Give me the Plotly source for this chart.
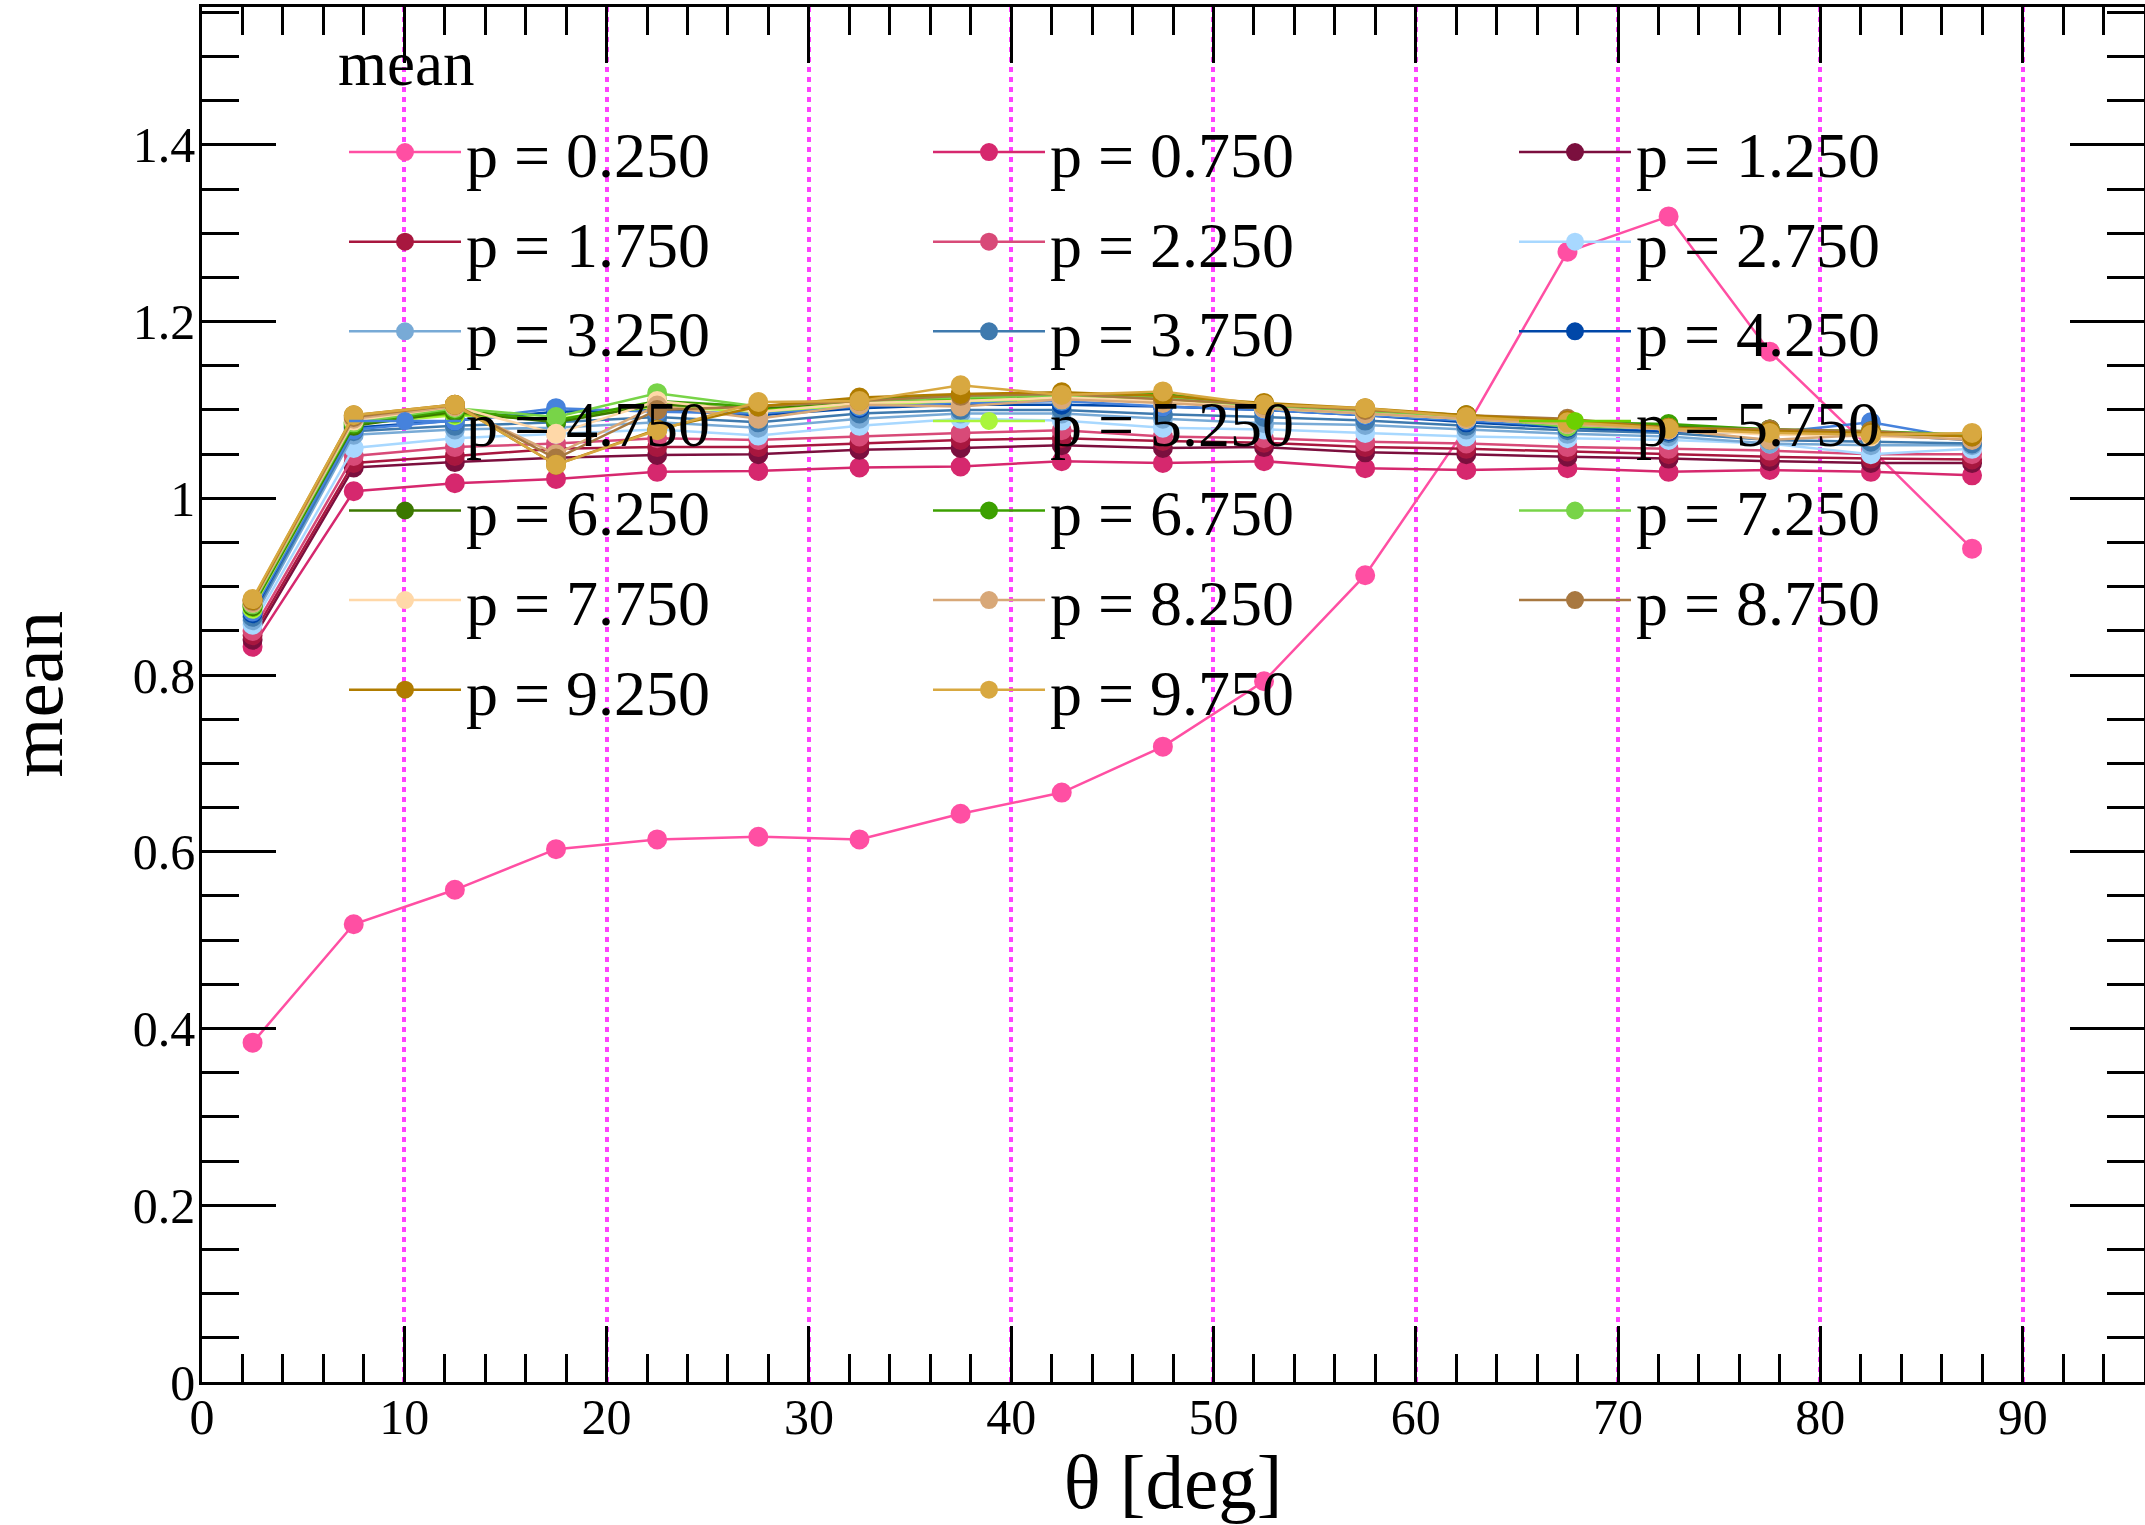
import plotly.graph_objects as go

theta = [2.5, 7.5, 12.5, 17.5, 22.5, 27.5, 32.5, 37.5, 42.5, 47.5,
         52.5, 57.5, 62.5, 67.5, 72.5, 77.5, 82.5, 87.5]

p_labels = ["p = 0.250", "p = 0.750", "p = 1.250", "p = 1.750", "p = 2.250",
            "p = 2.750", "p = 3.250", "p = 3.750", "p = 4.250", "p = 4.750",
            "p = 5.250", "p = 5.750", "p = 6.250", "p = 6.750", "p = 7.250",
            "p = 7.750", "p = 8.250", "p = 8.750", "p = 9.250", "p = 9.750"]

colors = ["#ff4fa3", "#d6286e", "#7b0f3e", "#a8173f", "#d84a78",
          "#a8d8ff", "#78aad6", "#3f7aae", "#0047a8", "#4682dc",
          "#aaf53c", "#6cd000", "#3c7800", "#3ca000", "#78d448",
          "#ffd8a8", "#d8a878", "#a87840", "#b07c00", "#d8a840"]

mean_p0250 = [0.384, 0.518, 0.557, 0.603, 0.614, 0.617, 0.614, 0.643, 0.667, 0.719,
              0.793, 0.913, 1.080, 1.279, 1.319, 1.166, 1.056, 0.943]
mean_p0750 = [0.832, 1.008, 1.017, 1.022, 1.030, 1.031, 1.035, 1.036, 1.042, 1.040,
              1.042, 1.034, 1.032, 1.034, 1.030, 1.032, 1.030, 1.026]
mean_p1250 = [0.840, 1.035, 1.041, 1.046, 1.049, 1.050, 1.055, 1.057, 1.060, 1.057,
              1.058, 1.052, 1.050, 1.047, 1.045, 1.042, 1.040, 1.040]
mean_p1750 = [0.845, 1.040, 1.048, 1.056, 1.058, 1.058, 1.062, 1.066, 1.068, 1.065,
              1.063, 1.058, 1.056, 1.053, 1.050, 1.047, 1.045, 1.044]
mean_p2250 = [0.850, 1.048, 1.058, 1.062, 1.068, 1.066, 1.070, 1.074, 1.077, 1.070,
              1.068, 1.064, 1.062, 1.058, 1.056, 1.054, 1.050, 1.050]
mean_p2750 = [0.857, 1.057, 1.068, 1.073, 1.078, 1.071, 1.082, 1.090, 1.088, 1.080,
              1.078, 1.074, 1.070, 1.068, 1.066, 1.062, 1.050, 1.056]
mean_p3250 = [0.862, 1.072, 1.078, 1.080, 1.086, 1.080, 1.090, 1.096, 1.096, 1.090,
              1.085, 1.083, 1.078, 1.073, 1.070, 1.062, 1.060, 1.060]
mean_p3750 = [0.866, 1.076, 1.082, 1.086, 1.092, 1.086, 1.096, 1.100, 1.100, 1.095,
              1.092, 1.088, 1.082, 1.077, 1.074, 1.066, 1.064, 1.062]
mean_p4250 = [0.870, 1.080, 1.088, 1.098, 1.100, 1.094, 1.102, 1.106, 1.106, 1.104,
              1.100, 1.094, 1.086, 1.080, 1.076, 1.074, 1.072, 1.066]
mean_p4750 = [0.872, 1.078, 1.088, 1.102, 1.098, 1.096, 1.104, 1.108, 1.110, 1.104,
              1.100, 1.094, 1.088, 1.082, 1.078, 1.074, 1.086, 1.066]
mean_p5250 = [0.875, 1.084, 1.094, 1.090, 1.104, 1.098, 1.106, 1.110, 1.112, 1.110,
              1.102, 1.096, 1.090, 1.084, 1.080, 1.076, 1.072, 1.068]
mean_p5750 = [0.877, 1.086, 1.096, 1.088, 1.108, 1.100, 1.108, 1.112, 1.114, 1.112,
              1.104, 1.098, 1.092, 1.082, 1.080, 1.076, 1.074, 1.070]
mean_p6250 = [0.878, 1.082, 1.098, 1.086, 1.106, 1.102, 1.110, 1.114, 1.116, 1.116,
              1.104, 1.098, 1.092, 1.086, 1.082, 1.078, 1.074, 1.070]
mean_p6750 = [0.880, 1.084, 1.100, 1.088, 1.110, 1.104, 1.112, 1.116, 1.116, 1.118,
              1.106, 1.100, 1.094, 1.086, 1.084, 1.078, 1.076, 1.072]
mean_p7250 = [0.880, 1.086, 1.102, 1.092, 1.119, 1.104, 1.110, 1.114, 1.116, 1.114,
              1.104, 1.098, 1.092, 1.081, 1.080, 1.076, 1.074, 1.072]
mean_p7750 = [0.882, 1.088, 1.104, 1.073, 1.110, 1.098, 1.108, 1.110, 1.114, 1.110,
              1.102, 1.096, 1.090, 1.084, 1.078, 1.072, 1.070, 1.068]
mean_p8250 = [0.882, 1.090, 1.104, 1.050, 1.105, 1.090, 1.106, 1.104, 1.112, 1.108,
              1.102, 1.096, 1.090, 1.084, 1.078, 1.066, 1.072, 1.066]
mean_p8750 = [0.884, 1.092, 1.106, 1.045, 1.100, 1.104, 1.110, 1.116, 1.118, 1.112,
              1.106, 1.100, 1.094, 1.090, 1.080, 1.078, 1.076, 1.070]
mean_p9250 = [0.885, 1.094, 1.106, 1.038, 1.078, 1.104, 1.114, 1.118, 1.120, 1.116,
              1.108, 1.102, 1.094, 1.088, 1.080, 1.076, 1.074, 1.070]
mean_p9750 = [0.886, 1.094, 1.106, 1.038, 1.077, 1.109, 1.110, 1.128, 1.117, 1.121,
              1.106, 1.102, 1.092, 1.086, 1.079, 1.074, 1.072, 1.074]

series = [mean_p0250, mean_p0750, mean_p1250, mean_p1750, mean_p2250,
          mean_p2750, mean_p3250, mean_p3750, mean_p4250, mean_p4750,
          mean_p5250, mean_p5750, mean_p6250, mean_p6750, mean_p7250,
          mean_p7750, mean_p8250, mean_p8750, mean_p9250, mean_p9750]

legend_header = "mean"
x_title = "θ [deg]"
y_title = "mean"

FONT = "Liberation Serif"
legend_ids = ["legend", "legend2", "legend3"]

fig = go.Figure()
for i, (name, col, vals) in enumerate(zip(p_labels, colors, series)):
    fig.add_trace(go.Scatter(
        x=theta, y=vals, name=name, mode="lines+markers",
        line=dict(color=col, width=2.5),
        marker=dict(color=col, size=18, line=dict(width=2, color=col)),
        legend=legend_ids[i % 3], legendgroup="g%d" % i,
    ))

axis_common = dict(
    showline=True, linecolor="black", linewidth=2.5,
    ticks="inside", tickcolor="black", tickwidth=2.5,
    mirror="allticks", zeroline=False, automargin=False,
    tickfont=dict(family=FONT, size=50, color="black"),
)

fig.update_xaxes(
    range=[0, 96], tick0=0, dtick=10, ticklen=56,
    minor=dict(dtick=2, ticklen=28, ticks="inside", tickcolor="black",
               tickwidth=2.5, showgrid=False),
    showgrid=True, gridcolor="#ff40ff", gridwidth=4, griddash="5px,5px",
    title=dict(text=x_title, font=dict(family=FONT, size=77, color="black"),
               standoff=25),
    ticklabelstandoff=-11,
    **axis_common,
)
fig.update_yaxes(
    range=[0, 1.556], tick0=0, dtick=0.2, ticklen=74,
    minor=dict(dtick=0.05, ticklen=37, ticks="inside", tickcolor="black",
               tickwidth=2.5, showgrid=False),
    showgrid=False,
    ticklabelstandoff=-6,
    **axis_common,
)

W_PLOT = 2145 - 202 - 1
H_PLOT = 1525 - 7 - 143


def px_x(px):
    return (px - 202) / W_PLOT


def px_y(px):
    return 1 - (px - 7) / H_PLOT


leg_common = dict(
    orientation="v", xanchor="left", yanchor="top",
    bgcolor="rgba(0,0,0,0)", borderwidth=0,
    font=dict(family=FONT, size=64, color="black"),
    itemwidth=112, traceorder="grouped", tracegroupgap=3.4,
)

fig.update_layout(
    width=2145, height=1525,
    margin=dict(l=202, r=1, t=7, b=143),
    paper_bgcolor="white", plot_bgcolor="white",
    font=dict(family=FONT, color="black"),
    legend=dict(x=px_x(344), y=px_y(104), **leg_common),
    legend2=dict(x=px_x(928), y=px_y(104), **leg_common),
    legend3=dict(x=px_x(1514), y=px_y(104), **leg_common),
    annotations=[
        dict(text=legend_header, xref="paper", yref="paper",
             x=px_x(336), y=px_y(64), xanchor="left", yanchor="middle",
             showarrow=False, font=dict(family=FONT, size=63, color="black")),
        dict(text=y_title, xref="paper", yref="paper",
             x=px_x(35), y=0.5, xanchor="center", yanchor="middle",
             textangle=-90, showarrow=False,
             font=dict(family=FONT, size=77, color="black")),
    ],
)

fig.write_html("out.html")
